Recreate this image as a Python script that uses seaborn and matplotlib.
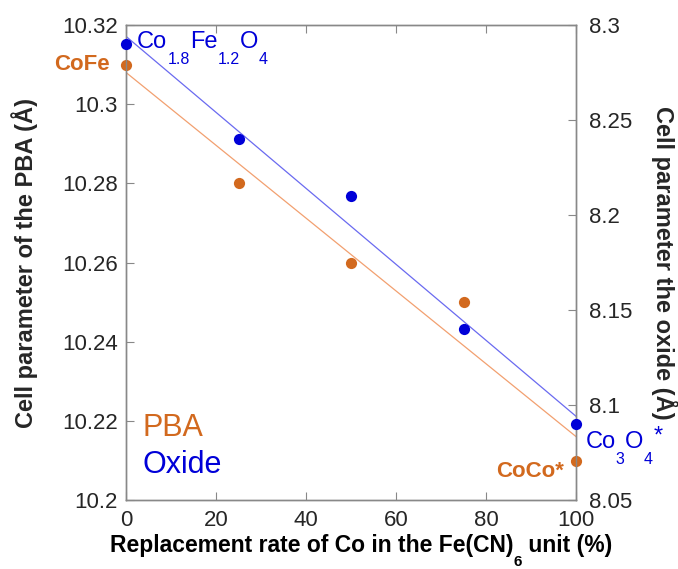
import numpy as np
import pandas as pd
import matplotlib
matplotlib.use('Agg')
import matplotlib.pyplot as plt
import seaborn as sns

# values
replacement = [0, 25, 50, 75, 100]
pba_cell = [10.31, 10.28, 10.26, 10.25, 10.21]
oxide_cell = [8.29, 8.24, 8.21, 8.14, 8.09]

left_ticks = [10.2, 10.22, 10.24, 10.26, 10.28, 10.3, 10.32]
left_labels = ['10.2', '10.22', '10.24', '10.26', '10.28', '10.3', '10.32']
right_ticks = [8.05, 8.1, 8.15, 8.2, 8.25, 8.3]
right_labels = ['8.05', '8.1', '8.15', '8.2', '8.25', '8.3']
x_ticks = [0, 20, 40, 60, 80, 100]

orange = '#D2691E'
blue = '#0000D8'

df = pd.DataFrame({'rate': replacement, 'pba': pba_cell, 'oxide': oxide_cell})

sns.set_style('ticks')
plt.rcParams['font.family'] = ['Liberation Sans', 'DejaVu Sans']


def formula(ax, x, y, parts, color, size=17, subsize=11.5, drop=10,
            weight='normal', transform=None):
    # draw text piece by piece, subscripts dropped low like the original
    first = ax.text(x, y, parts[0][0], color=color, fontsize=size,
                    fontweight=weight, ha='left', va='baseline',
                    transform=transform or ax.transData)
    main = first
    prev = first
    for s, kind in parts[1:]:
        if kind == 'sub':
            t = ax.annotate(s, xy=(1, 0), xycoords=(prev, main),
                            xytext=(0.3, -drop), textcoords='offset points',
                            color=color, fontsize=subsize, fontweight=weight,
                            ha='left', va='bottom')
        elif kind == 'sup':
            t = ax.annotate(s, xy=(1, 0), xycoords=(prev, main),
                            xytext=(1, 4), textcoords='offset points',
                            color=color, fontsize=size, fontweight=weight,
                            ha='left', va='bottom')
        else:
            t = ax.annotate(s, xy=(1, 0), xycoords=(prev, main),
                            color=color, fontsize=size, fontweight=weight,
                            ha='left', va='bottom')
            main = t
        prev = t


fig = plt.figure(figsize=(6.78, 5.69), dpi=100)
ax = fig.add_axes([0.186, 0.121, 0.664, 0.835])
ax2 = ax.twinx()

# PBA on left axis
sns.regplot(data=df, x='rate', y='pba', ax=ax, ci=None, truncate=True,
            scatter_kws={'color': orange, 's': 65, 'zorder': 5,
                         'linewidths': 0, 'alpha': 1},
            line_kws={'color': '#F2A070', 'lw': 0.9})
# oxide on right axis
sns.regplot(data=df, x='rate', y='oxide', ax=ax2, ci=None, truncate=True,
            scatter_kws={'color': blue, 's': 65, 'zorder': 5,
                         'linewidths': 0, 'alpha': 1},
            line_kws={'color': '#6A6AF0', 'lw': 0.9})

ax.set_xlim(0, 100)
ax.set_ylim(10.2, 10.32)
ax2.set_ylim(8.05, 8.3)
ax.set_xticks(x_ticks)
ax.set_yticks(left_ticks)
ax.set_yticklabels(left_labels)
ax2.set_yticks(right_ticks)
ax2.set_yticklabels(right_labels)

for a in (ax, ax2):
    for s in a.spines.values():
        s.set_color('#888888')
        s.set_linewidth(1.0)
        s.set_visible(True)
    a.tick_params(direction='in', length=6, width=0.8, color='#888888',
                  labelsize=16)
    for c in a.collections:
        c.set_clip_on(False)
ax.tick_params(top=True, labeltop=False)
ax.tick_params(axis='y', pad=6)
ax.tick_params(axis='x', pad=7)
ax2.tick_params(axis='y', pad=9)

ax.set_xlabel('')
ax.set_ylabel('Cell parameter of the PBA (Å)', fontsize=17,
              fontweight='bold', labelpad=17)
ax2.set_ylabel('Cell parameter the oxide (Å)', fontsize=17,
               fontweight='bold', rotation=270, labelpad=33)

# x axis title with a dropped subscript
formula(ax, -0.036, -0.109,
        [('Replacement rate of Co in the Fe(CN)', 'main'), ('6', 'sub'),
         (' unit (%)', 'main')],
        'black', size=16.5, subsize=11, drop=9, weight='bold',
        transform=ax.transAxes)

# annotations
ax.text(-3.6, 10.3101, 'CoFe', color=orange, fontsize=16, fontweight='bold',
        ha='right', va='center')
ax.text(97.3, 10.2058, 'CoCo*', color=orange, fontsize=16, fontweight='bold',
        ha='right', va='baseline')
formula(ax2, 2.4, 8.2879, [('Co', 'main'), ('1.8', 'sub'), ('Fe', 'main'),
                           ('1.2', 'sub'), ('O', 'main'), ('4', 'sub')], blue)
formula(ax2, 102, 8.0774, [('Co', 'main'), ('3', 'sub'), ('O', 'main'),
                           ('4', 'sub'), ('*', 'sup')], blue)
ax.text(3.6, 10.2162, 'PBA', color=orange, fontsize=22, ha='left', va='baseline')
ax.text(3.6, 10.2068, 'Oxide', color=blue, fontsize=22, ha='left', va='baseline')

fig.savefig('out.png', dpi=100)
